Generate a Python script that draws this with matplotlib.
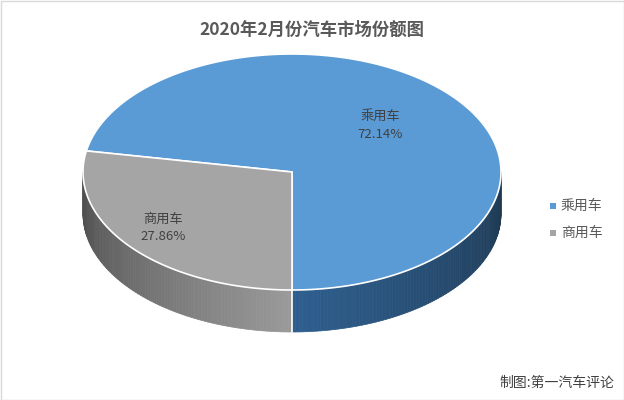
import numpy as np
import matplotlib
matplotlib.use("Agg")
import matplotlib.pyplot as plt
from matplotlib.patches import Polygon, Rectangle
import matplotlib.colors as mc

plt.rcParams['font.family'] = ['Noto Sans CJK SC', 'DejaVu Sans']

categories = ["乘用车", "商用车"]
shares = [72.14, 27.86]
colors = ["#5b9bd5", "#a5a5a5"]
title = "2020年2月份汽车市场份额图"
source = "制图:第一汽车评论"

fig = plt.figure(figsize=(6.24, 4.0), dpi=100)
ax = fig.add_axes([0, 0, 1, 1])
ax.set_xlim(0, 624); ax.set_ylim(400, 0); ax.axis("off")
ax.add_patch(Rectangle((0.5, 0.5), 623, 399, fill=False, ec="#d9d9d9", lw=1))

cx, cy, rx, ry, depth = 292, 172, 209, 118, 42
def pt(t, dy=0):
    return cx + rx*np.cos(t), cy - ry*np.sin(t) + dy

# angles (deg) for slices: first slice starts at 270 going counterclockwise
start = 270.0
bounds = []
a = start
for s in shares:
    b = a + s/100*360
    bounds.append((a, b))
    a = b

side_cols = {0: ("#2f5f8f", "#1e3850"), 1: ("#9a9a9a", "#4a4a4a")}
# side walls for front half (180..360)
for i, (a0, a1) in enumerate(bounds):
    for lo, hi in [(a0, a1), (a0-360, a1-360), (a0+360, a1+360)]:
        l, h = max(lo, 180), min(hi, 360)
        if h <= l: continue
        n = int((h-l)/1)+1
        ts = np.linspace(l, h, n+1)
        c0 = np.array(mc.to_rgb(side_cols[i][0])); c1 = np.array(mc.to_rgb(side_cols[i][1]))
        for k in range(n):
            f = (k+0.5)/n
            if i == 1: f = 1-f  # gray darker toward left-bottom? lighter at left
            c = c0*(1-f)+c1*f if i == 0 else c1*(f)+c0*(1-f)
            t0, t1 = np.radians(ts[k]), np.radians(ts[k+1])
            p = [pt(t0), pt(t1), pt(t1, depth), pt(t0, depth)]
            ax.add_patch(Polygon(p, closed=True, fc=c, ec=c, lw=0.5))
# seam at 270
x0, y0 = pt(np.radians(270)); ax.plot([x0, x0], [y0, y0+depth], color="white", lw=1.2)

# top faces
for i, (a0, a1) in enumerate(bounds):
    ts = np.radians(np.linspace(a0, a1, 300))
    p = [(cx, cy)] + [pt(t) for t in ts]
    ax.add_patch(Polygon(p, closed=True, fc=colors[i], ec="white", lw=1.2))

label_pos = [(380, 125), (163, 228)]
for (x, y), c, s in zip(label_pos, categories, shares):
    ax.text(x, y, f"{c}\n{s:.2f}%", ha="center", va="center", fontsize=9.5,
            color="#404040", linespacing=1.5)

ax.text(312, 30, title, ha="center", va="center", fontsize=12.5,
        fontweight="bold", color="#595959")
for k, (c, col) in enumerate(zip(categories, colors)):
    y = 206 + 27*k
    ax.add_patch(Rectangle((550, y-3), 6, 6, fc=col, ec="none"))
    ax.text(561, y, c, va="center", fontsize=10, color="#595959")
ax.text(614, 383, source, ha="right", va="center", fontsize=10, color="#404040")

fig.savefig("out.png", dpi=100)
